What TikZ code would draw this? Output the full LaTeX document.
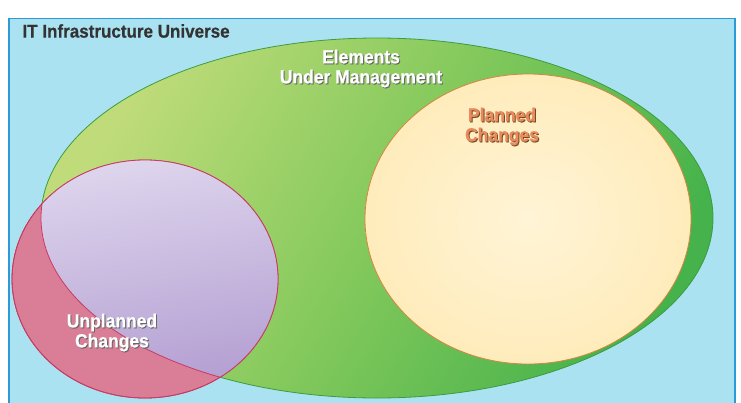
\documentclass[tikz,border=0pt]{standalone}
\usepackage{fontspec}
\newfontfamily\diagfont[FakeStretch=0.92, BoldFeatures={FakeBold=0.5}]{Liberation Sans}
\usetikzlibrary{shapes.geometric}

\definecolor{skyfill}{HTML}{ABE2F2}
\definecolor{skyline}{HTML}{2C9AD4}
\definecolor{greenlight}{HTML}{C0DC7A}
\definecolor{greenmid}{HTML}{84C95C}
\definecolor{greendark}{HTML}{45B24B}
\definecolor{greenline}{HTML}{3C9C40}
\definecolor{creamin}{HTML}{FFF4D6}
\definecolor{creamout}{HTML}{FFECBC}
\definecolor{orangeline}{HTML}{D8843E}
\definecolor{pinkfill}{HTML}{D97E96}
\definecolor{pinkline}{HTML}{C83A62}
\definecolor{lilactop}{HTML}{DED5ED}
\definecolor{lilacbot}{HTML}{B29DD1}
\definecolor{plannedtext}{HTML}{E88A5C}
\definecolor{titlegray}{HTML}{333333}

% text with a small drop shadow
\newcommand{\shadowed}[2][black!60]{\makebox[0pt][l]{\kern1pt\raisebox{-1pt}{\color{#1}#2}}#2}

\begin{document}
\begin{tikzpicture}[x=1pt, y=1pt,
    set/.style={draw, ellipse, inner sep=0pt, line width=0.8pt},
    setlabel/.style={font=\diagfont\bfseries\fontsize{19}{20}\selectfont, align=center, text=white}]
    \clip (0,0) rectangle (741,-402);

    % universe frame
    \node[draw=skyline, fill=skyfill, line width=1.5pt, anchor=north west,
        minimum width=726pt, minimum height=400pt] (universe) at (8,-17.5) {};
    \node[text=titlegray, font=\diagfont\bfseries\fontsize{18.5}{20}\selectfont, anchor=west] (title) at (19,-31) {IT Infrastructure Universe};

    % the three sets
    \node[set, draw=greenline, top color=greenlight, bottom color=greendark, middle color=greenmid, shading angle=60,
        minimum width=672pt, minimum height=360pt] (managed) at (377,-218) {};
    \node[set, draw=orangeline, inner color=creamin, outer color=creamout,
        minimum width=326pt, minimum height=290pt] (planned) at (528,-219) {};
    \node[set, draw=pinkline, fill=pinkfill,
        minimum width=266pt, minimum height=238pt] (unplanned) at (145,-279) {};

    % overlap of unplanned and managed
    \begin{scope}
        \clip (managed.center) ellipse [x radius=336pt, y radius=180pt];
        \shade[top color=lilactop, bottom color=lilacbot, shading angle=10] (unplanned.center) ellipse [x radius=133pt, y radius=119pt];
    \end{scope}
    \begin{scope}
        \clip (unplanned.center) ellipse [x radius=133pt, y radius=119pt];
        \draw[pinkline, line width=0.8pt] (managed.center) ellipse [x radius=336pt, y radius=180pt];
    \end{scope}
    \draw[pinkline, line width=0.8pt] (unplanned.center) ellipse [x radius=133pt, y radius=119pt];

    % labels
    \node[setlabel] (managedtxt) at (361,-69) {\shadowed{Elements}\\\shadowed{Under Management}};
    \node[setlabel, text=plannedtext] (plannedtxt) at (502,-127) {\shadowed[brown!60!black]{Planned}\\\shadowed[brown!60!black]{Changes}};
    \node[setlabel] (unplannedtxt) at (112,-333) {\shadowed{Unplanned}\\\shadowed{Changes}};
\end{tikzpicture}
\end{document}
